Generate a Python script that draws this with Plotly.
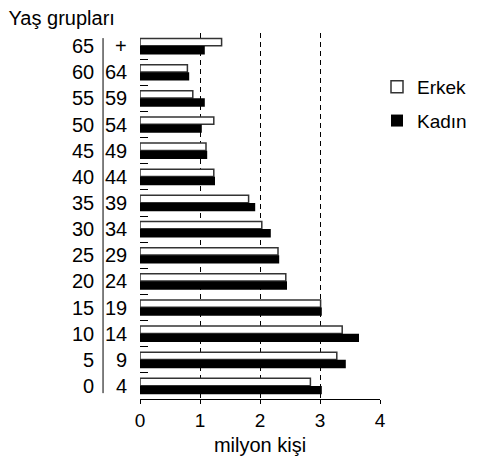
import plotly.graph_objects as go

# Age groups, bottom to top
groups = ["0-4", "5-9", "10-14", "15-19", "20-24", "25-29", "30-34",
          "35-39", "40-44", "45-49", "50-54", "55-59", "60-64", "65+"]
left_labels = ["0", "5", "10", "15", "20", "25", "30", "35", "40", "45", "50", "55", "60", "65"]
right_labels = ["4", "9", "14", "19", "24", "29", "34", "39", "44", "49", "54", "59", "64", "+"]

# million people
erkek = [2.84, 3.28, 3.37, 3.01, 2.43, 2.30, 2.03, 1.81, 1.23, 1.10, 1.23, 0.88, 0.79, 1.36]
kadin = [3.03, 3.43, 3.65, 3.03, 2.45, 2.32, 2.18, 1.92, 1.25, 1.12, 1.03, 1.08, 0.82, 1.08]

x_ticks = [0, 1, 2, 3, 4]

FONT = "Liberation Sans, Arial, Helvetica, sans-serif"
FS = 19
LFS = 20

# page body adds an 8px offset; the figure is sized to fill the rest of the window
W, H = 472, 455

fig = go.Figure()
fig.add_trace(go.Bar(
    y=groups, x=erkek, orientation="h", name="Erkek",
    marker=dict(color="white", line=dict(color="#333333", width=1.5)),
    offset=0.01, width=0.28, legendgroup="e",
))
fig.add_trace(go.Bar(
    y=groups, x=kadin, orientation="h", name="Kadın",
    marker=dict(color="black", line=dict(color="black", width=0)),
    offset=-0.32, width=0.32, legendgroup="k",
))

annotations = []
for g, l, r in zip(groups, left_labels, right_labels):
    annotations.append(dict(x=-0.183, xref="paper", y=g, yref="y", text=l,
                            showarrow=False, xanchor="right", yanchor="middle",
                            font=dict(size=LFS, color="black", family=FONT)))
    annotations.append(dict(x=-0.046, xref="paper", y=g, yref="y", text=r,
                            showarrow=False, xanchor="right", yanchor="middle",
                            font=dict(size=LFS, color="black", family=FONT)))

fig.update_layout(
    template="none",
    width=W, height=H,
    margin=dict(l=132, r=100, t=25, b=64, autoexpand=False),
    paper_bgcolor="white", plot_bgcolor="white",
    barmode="overlay",
    showlegend=True,
    font=dict(family=FONT, size=FS, color="black"),
    title=dict(text="Yaş grupları", x=0.5 / W, xanchor="left", xref="container",
               y=1 - 10 / H, yanchor="middle", yref="container",
               pad=dict(l=0, r=0, t=0, b=0),
               font=dict(size=20, family=FONT, color="black")),
    xaxis=dict(range=[0, 4], tickvals=x_ticks, ticktext=[str(v) for v in x_ticks],
               automargin=False,
               showline=True, linecolor="black", linewidth=1,
               ticks="outside", ticklen=4, tickcolor="black",
               showgrid=True, gridcolor="black", gridwidth=1, griddash="5px,4px",
               zeroline=False,
               title=dict(text="milyon kişi", standoff=8,
                          font=dict(size=LFS, family=FONT, color="black")),
               tickfont=dict(size=FS, family=FONT, color="black")),
    yaxis=dict(type="category", categoryorder="array", categoryarray=groups,
               automargin=False,
               range=[-0.5, 13.5], showticklabels=False, tickson="boundaries",
               ticks="inside", ticklen=8, tickcolor="black",
               showgrid=False, zeroline=False, showline=False),
    legend=dict(x=464 / W, y=1 - 60 / H, xref="container", yref="container",
                xanchor="right", yanchor="top",
                font=dict(size=FS, family=FONT, color="black"),
                tracegroupgap=6, bgcolor="rgba(0,0,0,0)", borderwidth=0),
    annotations=annotations,
    shapes=[dict(type="line", xref="paper", yref="paper", x0=-0.154, x1=-0.154,
                 y0=0.016, y1=0.986, line=dict(color="black", width=1))],
)

fig.write_html("out.html")
